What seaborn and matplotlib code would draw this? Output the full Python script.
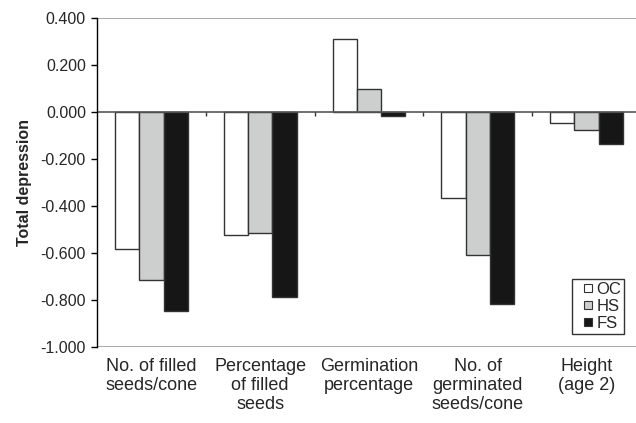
import matplotlib
matplotlib.use("Agg")
import matplotlib.pyplot as plt
from matplotlib.lines import Line2D
import seaborn as sns
import pandas as pd
import numpy as np

categories = ["No. of filled\nseeds/cone", "Percentage\nof filled\nseeds", "Germination\npercentage",
              "No. of\ngerminated\nseeds/cone", "Height\n(age 2)"]
series = ["OC", "HS", "FS"]
oc_values = [-0.585, -0.525, 0.313, -0.368, -0.045]
hs_values = [-0.716, -0.517, 0.098, -0.607, -0.077]
fs_values = [-0.846, -0.788, -0.017, -0.816, -0.138]
yticks = [-1.0, -0.8, -0.6, -0.4, -0.2, 0.0, 0.2, 0.4]

rows = []
for s, vals in zip(series, [oc_values, hs_values, fs_values]):
    for c, v in zip(categories, vals):
        rows.append({"category": c, "series": s, "value": v})
df = pd.DataFrame(rows)

sns.set_theme(style="white")
plt.rcParams['font.family'] = ['Liberation Sans', 'DejaVu Sans']

fig = plt.figure(figsize=(6.36, 4.23), dpi=100)
left_px, right_px = 97, 641
ax = fig.add_axes([left_px/636, 1-346.7/423, (right_px-left_px)/636, (346.7-18.3)/423])

palette = {"OC": "#ffffff", "HS": "#cdcfce", "FS": "#161616"}
sns.barplot(data=df, x="category", y="value", hue="series", order=categories,
            hue_order=series, palette=palette, width=0.67, edgecolor="#333333",
            linewidth=1.0, saturation=1, ax=ax, legend=False)

ax.set_xlim(-0.5, 4.5)
ax.set_ylim(-1.0, 0.4)
ax.set_yticks(yticks)
ax.set_yticklabels([f"{t:.3f}" for t in yticks], fontsize=11.5)
ax.set_ylabel("Total depression", fontsize=11.5, fontweight="bold", labelpad=6)
ax.set_xlabel("")
ax.set_xticks(range(len(categories)))
ax.set_xticklabels(categories, fontsize=13, linespacing=1.15)
ax.tick_params(axis="x", length=0, pad=8)
ax.tick_params(axis="y", direction="out", length=4, width=1, color="black", left=True, pad=4)

for sp in ["top", "right", "bottom"]:
    ax.spines[sp].set_visible(False)
ax.spines["left"].set_color("black")
ax.spines["left"].set_linewidth(1.0)

ax.axhline(0.4, color="#9a9a9a", lw=1.2, zorder=0)
ax.axhline(-1.0, color="#9a9a9a", lw=1.2, zorder=0)
ax.axhline(0.0, color="#555555", lw=1.2, zorder=1)
ax.vlines([0.5, 1.5, 2.5, 3.5], -0.018, 0, color="#333333", lw=1)

handles = [Line2D([], [], marker="s", linestyle="none", markersize=5.2,
                  markerfacecolor=palette[s], markeredgecolor="#333333", markeredgewidth=0.8)
           for s in series]
leg = ax.legend(handles, series, loc="lower right", bbox_to_anchor=(624/636, 1-334/423),
                bbox_transform=fig.transFigure, frameon=True, fancybox=False,
                fontsize=12, handlelength=1.5, handletextpad=-0.25,
                labelspacing=0.12, borderpad=0.18, borderaxespad=0)
leg.get_frame().set_edgecolor("black")
leg.get_frame().set_linewidth(1.0)

fig.savefig("out.png", dpi=100)
